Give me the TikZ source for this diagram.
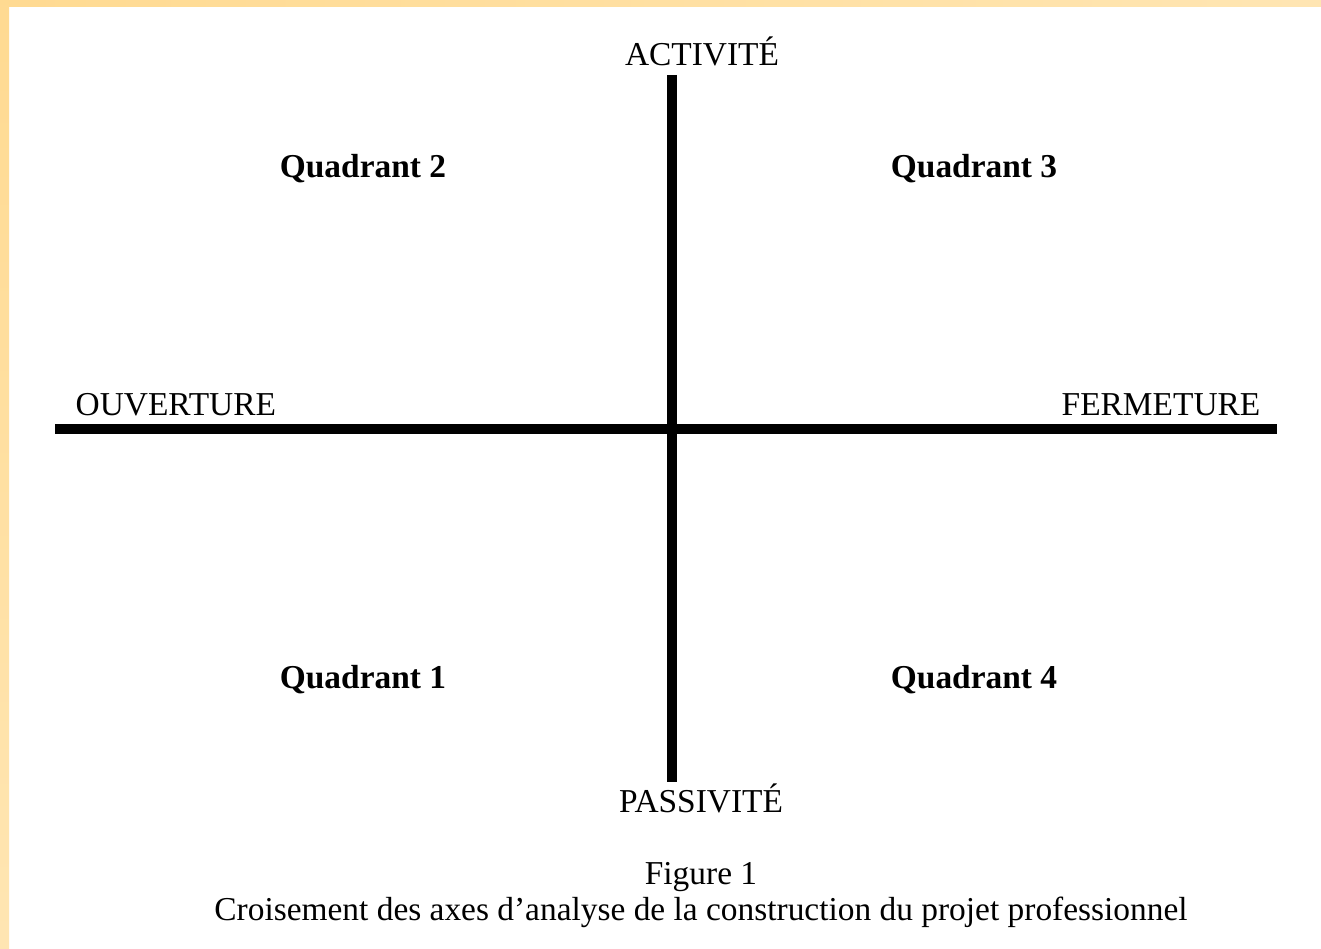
\documentclass[tikz,border=0pt]{standalone}
\usepackage{fontspec}
\setmainfont{Liberation Serif}
\usepackage{tikz}
\usetikzlibrary{calc}
\definecolor{bandorange}{rgb}{1.,0.855,0.57}
\definecolor{bandpale}{rgb}{1.,0.9,0.7}
\tikzset{
  axe/.style={line width=0.1cm,color=black,line cap=butt},
  pole/.style={anchor=base,inner sep=0pt,font=\fontsize{9.5pt}{11pt}\selectfont},
  quadrant/.style={anchor=base,inner sep=0pt,font=\fontsize{9.5pt}{11pt}\selectfont\bfseries},
  legende/.style={anchor=base,inner sep=0pt,font=\fontsize{9.5pt}{11pt}\selectfont}
}

\begin{document}
\begin{tikzpicture}[line join=round,x=0.01cm,y=-0.01cm]
            \useasboundingbox (0,0) rectangle (1321,949);
            \fill [white] (0,0) rectangle (1321,949);
            \shade [left color=bandorange,right color=bandpale] (0,0) rectangle (1321,7);
            \shade [top color=bandorange,bottom color=bandpale] (0,0) rectangle (9,949);
            \coordinate (haut) at (672,75);
            \coordinate (bas) at (672,782);
            \coordinate (gauche) at (55,429);
            \coordinate (droite) at (1277,429);
            \draw [axe] (haut) -- (bas);
            \draw [axe] (gauche) -- (droite);
            \node [pole] (activite) at (702,66) {ACTIVITÉ};
            \node [pole] (passivite) at (701,812) {PASSIVITÉ};
            \node [pole,anchor=base west] (ouverture) at (75,416) {OUVERTURE};
            \node [pole,anchor=base east] (fermeture) at (1261,416) {FERMETURE};
            \node [quadrant] (q2) at (363,178) {Quadrant 2};
            \node [quadrant] (q3) at (974,178) {Quadrant 3};
            \node [quadrant] (q1) at (363,689) {Quadrant 1};
            \node [quadrant] (q4) at (974,689) {Quadrant 4};
            \node [legende] (figure) at (701,884) {Figure 1};
            \node [legende] (titre) at (701,920) {Croisement des axes d’analyse de la construction du projet professionnel};
\end{tikzpicture}
\end{document}
